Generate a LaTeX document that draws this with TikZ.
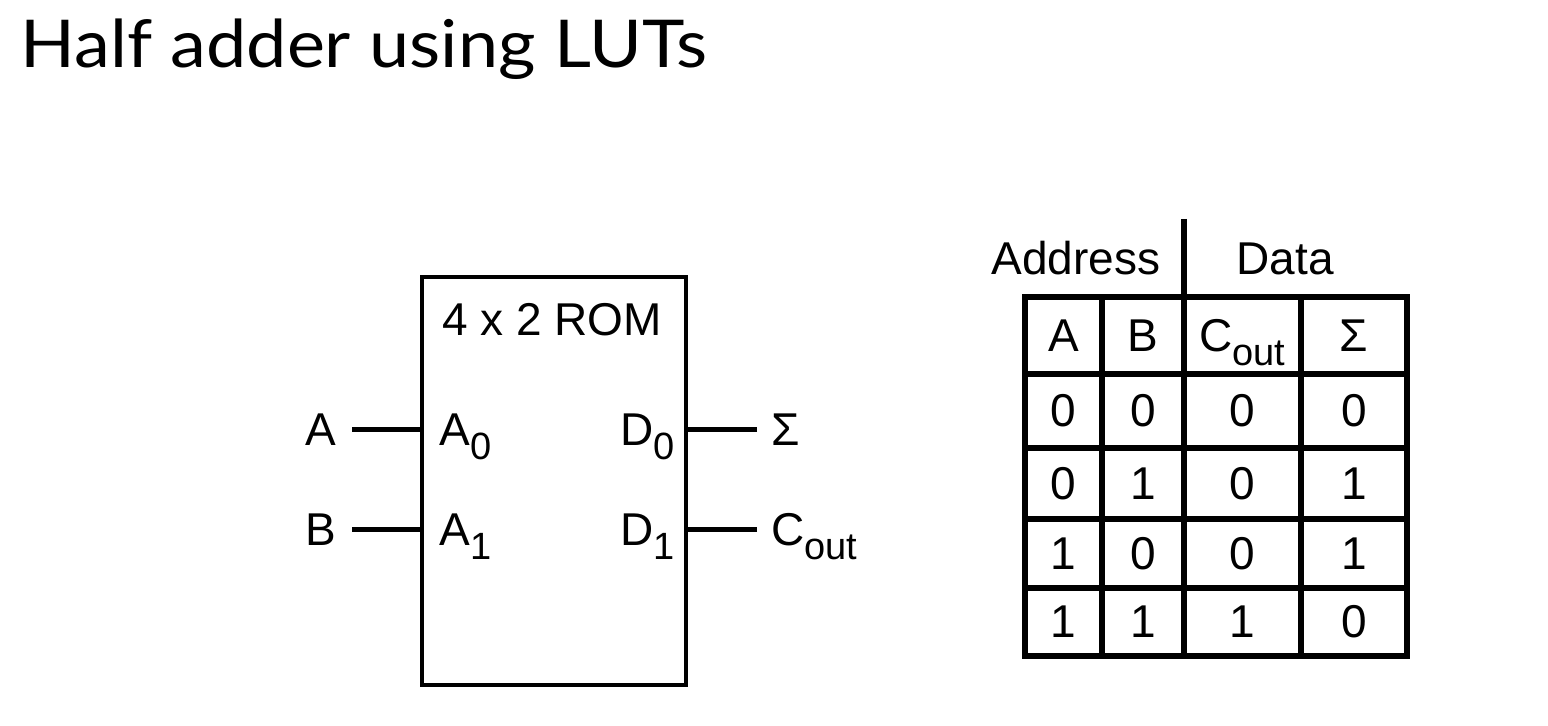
\documentclass[tikz,border=0pt]{standalone}
\usepackage{fontspec}
\setmainfont{Liberation Sans}
\newfontfamily\titlefont[FakeStretch=1.09]{Lato}
\newcommand{\lowsub}[1]{\raisebox{-0.3em}{\fontsize{19pt}{19pt}\selectfont #1}}
\begin{document}
\begin{tikzpicture}[x=0.5pt,y=-0.5pt,
  lbl/.style={inner sep=0pt,font=\fontsize{23pt}{23pt}\selectfont},
  wire/.style={line width=2.5pt},
  gridline/.style={line width=2.8pt}]
\useasboundingbox (0,0) rectangle (1548,726);
% title
\node[inner sep=0pt,anchor=base west,font=\titlefont\fontsize{33pt}{33pt}\selectfont] (title) at (20,68) {Half adder using LUTs};
% ROM
\node[draw,line width=2.2pt,minimum width=132pt,minimum height=204pt,inner sep=0pt] (rom) at (554,481) {};
\node[lbl,anchor=base] (romlbl) at (552,336) {4 x 2 ROM};
\node[lbl,anchor=base] (inA) at (321,446) {A};
\node[lbl,anchor=base] (inB) at (321,546) {B};
\node[lbl,anchor=base west] (a0) at (439,446) {A\lowsub{0}};
\node[lbl,anchor=base west] (a1) at (439,546) {A\lowsub{1}};
\node[lbl,anchor=base east] (d0) at (675,446) {D\lowsub{0}};
\node[lbl,anchor=base east] (d1) at (675,546) {D\lowsub{1}};
\node[lbl,anchor=base west] (sum) at (771,446) {Σ};
\node[lbl,anchor=base west] (cout) at (771,546) {C\lowsub{out}};
\coordinate (pa) at (352,430);
\coordinate (pb) at (352,530);
\coordinate (ps) at (757,430);
\coordinate (pc) at (757,530);
\draw[wire] (pa) -- (pa -| rom.west);
\draw[wire] (pb) -- (pb -| rom.west);
\draw[wire] (ps) -- (ps -| rom.east);
\draw[wire] (pc) -- (pc -| rom.east);
% table
\node[lbl,anchor=base] (addr) at (1076,275) {Address};
\node[lbl,anchor=base] (data) at (1285,275) {Data};
\draw[gridline] (1184,219) -- (1184,297);
\draw[gridline] (1025,297) rectangle (1407,656);
\foreach \y in {374,448,519,588} \draw[gridline] (1025,\y) -- (1407,\y);
\foreach \x in {1102,1184,1301} \draw[gridline] (\x,297) -- (\x,656);
\node[lbl,anchor=base] (hA) at (1063.5,352) {A};
\node[lbl,anchor=base] (hB) at (1143,352) {B};
\node[lbl,anchor=base] (hC) at (1242.5,352) {C\lowsub{out}};
\node[lbl,anchor=base] (hS) at (1354,352) {Σ};
\foreach \r/\y/\a/\b/\c/\s in {1/427/0/0/0/0,2/499.5/0/1/0/1,3/569.5/1/0/0/1,4/637.5/1/1/1/0}{
  \node[lbl,anchor=base] (ca\r) at (1063.5,\y) {\a};
  \node[lbl,anchor=base] (cb\r) at (1143,\y) {\b};
  \node[lbl,anchor=base] (cc\r) at (1242.5,\y) {\c};
  \node[lbl,anchor=base] (cs\r) at (1354,\y) {\s};
}
\end{tikzpicture}
\end{document}
